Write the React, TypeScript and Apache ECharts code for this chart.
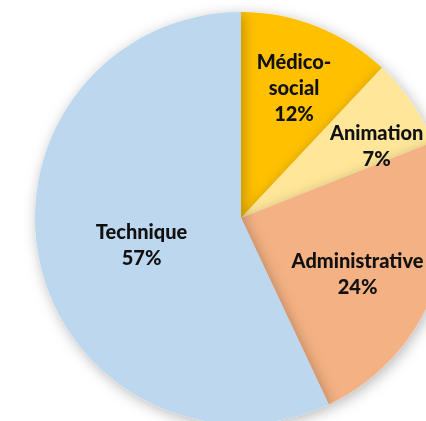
import React, { useEffect, useRef } from "react";
import * as echarts from "echarts";

const categories = ["Médico-social", "Animation", "Administrative", "Technique"];
const values = [12, 7, 24, 57];
const colors = ["#FFC000", "#FFE699", "#F4B183", "#BDD7EE"];
const labelShift = [
  [14, -32],
  [48, -13],
  [18, 16],
  [4, 3],
];

export default function App() {
  const ref = useRef<HTMLDivElement>(null);
  useEffect(() => {
    if (!ref.current) return;
    const chart = echarts.init(ref.current, null, { renderer: "svg" });
    chart.setOption({
      animation: false,
      series: [
        {
          type: "pie",
          center: [241, 218],
          radius: 206,
          startAngle: 90,
          clockwise: true,
          data: categories.map((name, i) => ({
            name,
            value: values[i],
            itemStyle: { color: colors[i] },
          })),
          itemStyle: {
            shadowBlur: 14,
            shadowColor: "rgba(0,0,0,0.28)",
            shadowOffsetX: 2,
            shadowOffsetY: 3,
          },
          label: {
            show: true,
            position: "inside",
            formatter: (p: any) => p.name.replace("-", "-\n") + "\n" + p.value + "%",
            color: "#111",
            fontFamily: "Lato",
            fontWeight: 900,
            fontSize: 20,
            lineHeight: 26,
            align: "center",
          },
          labelLine: { show: false },
          labelLayout: (params: any) => ({
            dx: labelShift[params.dataIndex][0],
            dy: labelShift[params.dataIndex][1],
          }),
          emphasis: { disabled: true },
        },
      ],
    });
    return () => chart.dispose();
  }, []);
  return (
    <div
      ref={ref}
      style={{ position: "fixed", left: 0, top: 0, width: 426, height: 421 }}
    />
  );
}
